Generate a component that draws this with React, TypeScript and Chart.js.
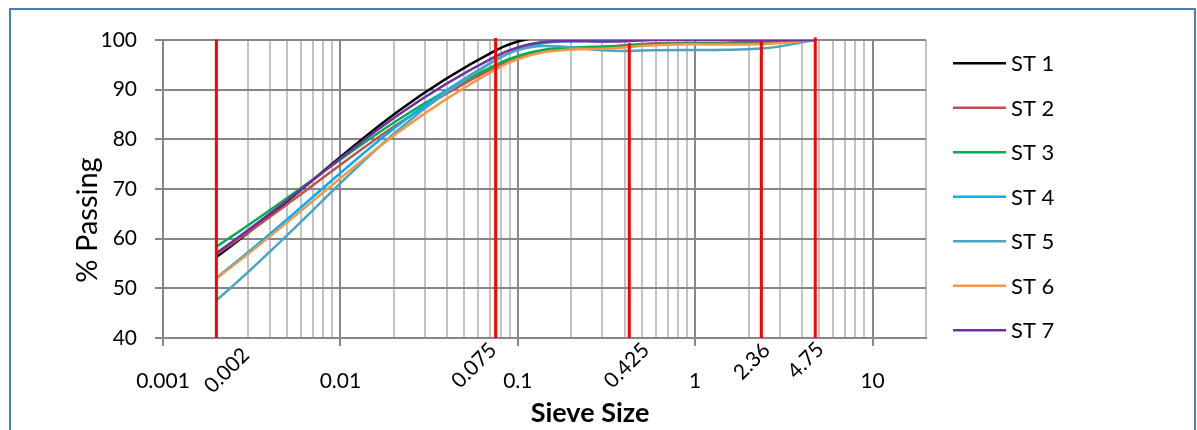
import React, { useEffect, useRef } from 'react';
import { Chart, registerables } from 'chart.js';

Chart.register(...registerables);

// ---------- data ----------
const SIEVE_SIZES = [0.002, 0.075, 0.425, 2.36, 4.75];
const SIEVE_LABELS = ['0.002', '0.075', '0.425', '2.36', '4.75'];
const SERIES_NAMES = ['ST 1', 'ST 2', 'ST 3', 'ST 4', 'ST 5', 'ST 6', 'ST 7'];
const ST1 = [56.3, 97.9, 100, 100, 100];
const ST2 = [56.8, 94.6, 99.0, 99.4, 100];
const ST3 = [58.4, 95.0, 98.9, 99.3, 100];
const ST4 = [52.1, 96.0, 100, 100, 100];
const ST5 = [47.6, 96.0, 97.8, 98.3, 100];
const ST6 = [52.0, 94.1, 98.6, 99.2, 100];
const ST7 = [57.1, 96.7, 99.8, 99.9, 100];
const SERIES = [ST1, ST2, ST3, ST4, ST5, ST6, ST7];
const RED_LINE_BOTTOM = 40;
const RED_LINE_TOPS = [100.1, 100.4, 99.4, 99.8, 100.5];
const DECADE_TICKS = [0.001, 0.01, 0.1, 1, 10];
const DECADE_LABELS = ['0.001', '0.01', '0.1', '1', '10'];
const X_MIN = 0.001;
const X_MAX = 20;
const Y_MIN = 40;
const Y_MAX = 100;
const Y_MINOR_STEP = 5;
const Y_MAJOR_STEP = 10;
const X_TITLE = 'Sieve Size';
const Y_TITLE = '% Passing';

// ---------- style ----------
const COLORS = ['#000000', '#c0504d', '#00b050', '#00b0f0', '#4aa6bf', '#f79646', '#7030a0'];
const RED = '#ff0000';
const MAJOR = '#878787';
const MINOR = '#c2c2c2';
const FONT = 'Lato, "Open Sans", sans-serif';
// label nudges (layout only): [dx from tick, dy below plot bottom]
const SIEVE_LABEL_NUDGE = [
  [10, 32],
  [-22, 27],
  [-3, 27],
  [-10, 23],
  [-10, 22],
];

const isDecade = (v: number) => DECADE_TICKS.some((d) => Math.abs(v - d) < d * 1e-6);

function xGridValues(): number[] {
  const out: number[] = [];
  for (let e = -3; e <= 1; e++) {
    for (let m = 1; m <= 9; m++) {
      const v = Number((m * Math.pow(10, e)).toPrecision(6));
      if (v <= X_MAX) out.push(v);
    }
  }
  out.push(X_MAX);
  return out;
}

const overlayPlugin = {
  id: 'overlay',
  afterDraw(chart: any) {
    const ctx = chart.ctx as CanvasRenderingContext2D;
    const xs = chart.scales.x;
    const area = chart.chartArea;
    ctx.save();
    ctx.fillStyle = '#000';

    // rotated sieve labels
    ctx.font = `21px ${FONT}`;
    ctx.textAlign = 'center';
    ctx.textBaseline = 'alphabetic';
    SIEVE_SIZES.forEach((v, i) => {
      const px = xs.getPixelForValue(v) + SIEVE_LABEL_NUDGE[i][0];
      const py = area.bottom + SIEVE_LABEL_NUDGE[i][1];
      ctx.save();
      ctx.translate(px, py);
      ctx.rotate(-Math.PI / 4);
      ctx.fillText(SIEVE_LABELS[i], 0, 7.5);
      ctx.restore();
    });

    // x title
    ctx.font = `bold 27px ${FONT}`;
    ctx.textAlign = 'center';
    ctx.fillText(X_TITLE, 590, area.bottom + 84);

    // y title
    ctx.save();
    ctx.translate(96.5, 220);
    ctx.rotate(-Math.PI / 2);
    ctx.font = `29px ${FONT}`;
    ctx.textAlign = 'center';
    ctx.fillText(Y_TITLE, 0, 0);
    ctx.restore();

    // legend
    ctx.font = `22px ${FONT}`;
    ctx.textAlign = 'left';
    SERIES_NAMES.forEach((name, i) => {
      const cy = area.top + 23.3 + i * 44.5;
      ctx.strokeStyle = COLORS[i];
      ctx.lineWidth = 2.5;
      ctx.beginPath();
      ctx.moveTo(953, cy);
      ctx.lineTo(1006, cy);
      ctx.stroke();
      ctx.fillStyle = '#000';
      ctx.fillText(name, 1011, cy + 8);
    });
    ctx.restore();
  },
};

export default function App() {
  const ref = useRef<HTMLCanvasElement | null>(null);

  useEffect(() => {
    if (!ref.current) return;
    const curveSets = SERIES.map((vals, i) => ({
      label: SERIES_NAMES[i],
      data: SIEVE_SIZES.map((x, j) => ({ x, y: vals[j] })),
      borderColor: COLORS[i],
      backgroundColor: COLORS[i],
      borderWidth: 2.5,
      pointRadius: 0,
      tension: 0.4,
      fill: false,
      order: SERIES.length - i,
    }));
    const redSets = SIEVE_SIZES.map((x, i) => ({
      label: 'limit ' + SIEVE_LABELS[i],
      data: [
        { x, y: RED_LINE_BOTTOM },
        { x, y: RED_LINE_TOPS[i] },
      ],
      borderColor: RED,
      backgroundColor: RED,
      borderWidth: 3,
      pointRadius: 0,
      tension: 0,
      fill: false,
      clip: false as any,
      order: -1,
    }));
    const grid = xGridValues();

    const chart = new Chart(ref.current, {
      type: 'line',
      data: { datasets: [...curveSets, ...redSets] as any },
      options: {
        responsive: false,
        animation: false,
        devicePixelRatio: 1,
        layout: { padding: { top: 40, right: 271, left: 0, bottom: 0 } },
        elements: { line: { capBezierPoints: false } },
        plugins: { legend: { display: false }, tooltip: { enabled: false } },
        scales: {
          x: {
            type: 'logarithmic',
            min: X_MIN,
            max: X_MAX,
            afterFit: (s: any) => {
              s.height = 430 - 338;
            },
            afterBuildTicks: (s: any) => {
              s.ticks = grid.map((v) => ({ value: v }));
            },
            ticks: {
              autoSkip: false,
              maxRotation: 0,
              minRotation: 0,
              padding: 23,
              color: '#000',
              font: { family: FONT, size: 21 },
              callback: (v: any) => {
                const i = DECADE_TICKS.findIndex((d) => Math.abs(Number(v) - d) < d * 1e-6);
                return i >= 0 ? DECADE_LABELS[i] : '';
              },
            },
            grid: {
              color: (c: any) => (c.tick && isDecade(c.tick.value) ? MAJOR : MINOR),
              lineWidth: 2,
              tickColor: (c: any) => (c.tick && isDecade(c.tick.value) ? MAJOR : 'rgba(0,0,0,0)'),
              tickLength: 8,
              drawTicks: true,
            },
            border: { display: true, color: MAJOR, width: 2 },
          } as any,
          y: {
            type: 'linear',
            min: Y_MIN,
            max: Y_MAX,
            afterFit: (s: any) => {
              s.width = 163;
            },
            ticks: {
              stepSize: Y_MINOR_STEP,
              padding: 18,
              color: '#000',
              font: { family: FONT, size: 21 },
              callback: (v: any) => (Number(v) % Y_MAJOR_STEP === 0 ? String(v) : ''),
            },
            grid: {
              color: (c: any) => (c.tick && c.tick.value % Y_MAJOR_STEP === 0 ? MAJOR : MINOR),
              lineWidth: 2,
              tickColor: (c: any) =>
                c.tick && c.tick.value % Y_MAJOR_STEP === 0 ? MAJOR : 'rgba(0,0,0,0)',
              tickLength: 8,
              drawTicks: true,
            },
            border: { display: true, color: MAJOR, width: 2 },
          },
        },
      },
      plugins: [overlayPlugin],
    });
    return () => chart.destroy();
  }, []);

  return (
    <div
      style={{
        position: 'fixed',
        left: 0,
        top: 0,
        width: 1197,
        height: 430,
        overflow: 'hidden',
        background: '#fff',
      }}
    >
      <canvas ref={ref} width={1197} height={430} style={{ position: 'absolute', left: 0, top: 0 }} />
      <div
        style={{
          position: 'absolute',
          left: 9,
          top: 8,
          width: 1187,
          height: 460,
          border: '2px solid #4a7ebb',
          boxSizing: 'border-box',
          pointerEvents: 'none',
        }}
      />
    </div>
  );
}
